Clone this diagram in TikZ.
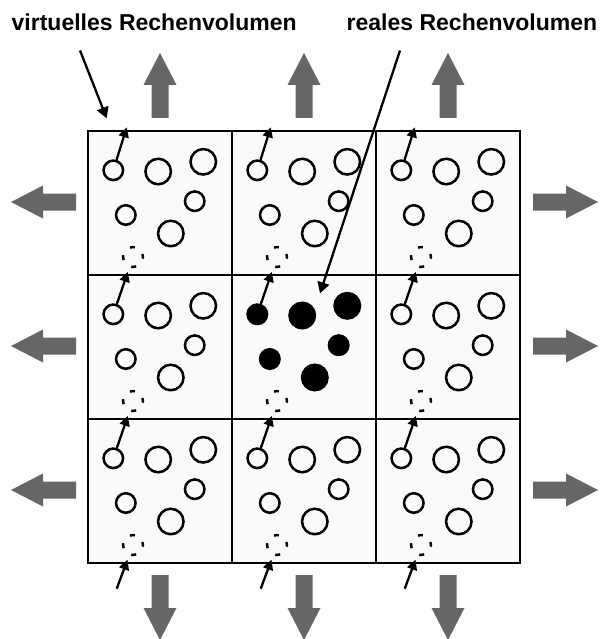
\documentclass[tikz,border=0pt]{standalone}
\usepackage{fontspec}
\setmainfont{Liberation Sans}
\usetikzlibrary{arrows.meta}
\definecolor{arrowgray}{RGB}{102,102,102}
\definecolor{cellgray}{RGB}{250,250,250}

\begin{document}
\begin{tikzpicture}[
    x=1pt, y=-1pt,
    cellbox/.style={draw, line width=2.9pt, fill=cellgray},
    ball/.style={circle, draw, line width=2.5pt, inner sep=0pt},
    small/.style={ball, minimum size=19.5pt},
    large/.style={ball, minimum size=25.5pt},
    ghost/.style={circle, draw, line width=2.4pt, inner sep=0pt, minimum size=20pt,
      dash pattern=on 5pt off 10.7pt, dash phase=2pt},
    hop/.style={-{Triangle[length=10pt,width=10pt]}, line width=2.3pt, shorten >=4.5pt},
    callout/.style={-{Triangle[length=11pt,width=12pt]}, line width=2.3pt},
    tag/.style={inner sep=0pt, font=\bfseries\fontsize{23}{27}\selectfont},
    grayarrow/.pic={
      \fill[arrowgray] (0,-8.5) -- (33,-8.5) -- (33,-16.5) -- (65,0)
        -- (33,16.5) -- (33,8.5) -- (0,8.5) -- cycle;
    }
  ]
  \useasboundingbox (0,0) rectangle (600,639);

  % 3x3 cells, the middle one holds the real particles
  \foreach \i in {0,1,2}
    \foreach \j in {0,1,2} {
      \ifnum\numexpr\i*10+\j\relax=11 \def\ballfill{black}\else\def\ballfill{none}\fi
      \begin{scope}[shift={(88+144*\i,131+144*\j)}]
        \draw[cellbox] (0,0) rectangle (144,144);
        \node[small, fill=\ballfill] (A-\i-\j) at (25.3,39.3) {};
        \node[large, fill=\ballfill] (B-\i-\j) at (70.2,40.5) {};
        \node[large, fill=\ballfill] (C-\i-\j) at (115.3,30.8) {};
        \node[small, fill=\ballfill] (D-\i-\j) at (106.7,70.2) {};
        \node[small, fill=\ballfill] (E-\i-\j) at (37.8,84) {};
        \node[large, fill=\ballfill] (F-\i-\j) at (82.8,102.5) {};
        \node[ghost] (G-\i-\j) at (45,126) {};
      \end{scope}
    }

  % particles leaving through the top border
  \foreach \i in {0,1,2} {
    \coordinate (tip-\i) at (126.7+144*\i,127.3);
    \coordinate (tail-\i) at (116.7+144*\i,588.7);
    \draw[hop, shorten >=0pt] (A-\i-0) -- (tip-\i);
    \draw[hop] (A-\i-1) -- (G-\i-0);
    \draw[hop] (A-\i-2) -- (G-\i-1);
    \draw[hop] (tail-\i) -- (G-\i-2);
  }

  % labels
  \node[tag, anchor=base west] (virtlabel) at (11.5,31) {virtuelles Rechenvolumen};
  \node[tag, anchor=base west] (reallabel) at (346.5,31) {reales Rechenvolumen};
  \coordinate (virttip) at (106.7,118.3);
  \coordinate (realtip) at (320,293.3);
  \draw[callout] ([xshift=68.5pt,yshift=-19pt]virtlabel.south west) -- (virttip);
  \draw[callout] ([xshift=53.5pt,yshift=-19pt]reallabel.south west) -- (realtip);

  % periodic boundaries
  \foreach \x in {160,304,448} {
    \pic[rotate=90] at (\x,118) {grayarrow};
    \pic[rotate=-90] at (\x,575) {grayarrow};
  }
  \foreach \y in {202,346,490} {
    \pic[rotate=180] at (76,\y) {grayarrow};
    \pic at (533,\y) {grayarrow};
  }
\end{tikzpicture}
\end{document}
